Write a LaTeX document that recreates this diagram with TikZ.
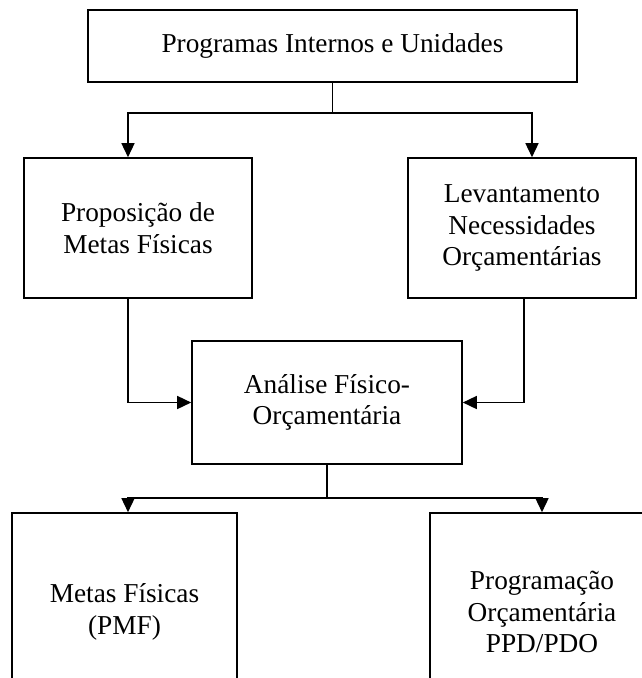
\documentclass[tikz,border=0pt]{standalone}
\usepackage{fontspec}
\setmainfont{Liberation Serif}
\usetikzlibrary{arrows.meta}
\begin{document}
\begin{tikzpicture}[x=1pt,y=-1pt,
  box/.style={draw,line width=1.6pt,align=center,inner sep=0pt,
    font=\fontsize{27.3}{31.5}\selectfont},
  arr/.style={line width=1.5pt,-{Triangle[length=14pt,width=13pt]}},
  ln/.style={line width=1.5pt}]
\useasboundingbox (0,0) rectangle (642,678);
\clip (0,0) rectangle (642,678);
\node[box,minimum width=489pt,minimum height=72pt] (top) at (332.5,46) {Programas Internos e Unidades};
\node[box,minimum width=228pt,minimum height=140pt] (lb) at (138,228) {Proposição de\\Metas Físicas};
\node[box,minimum width=228pt,minimum height=140pt] (rb) at (522,228) {Levantamento\\Necessidades\\Orçamentárias};
\node[box,minimum width=270pt,minimum height=123pt] (cb) at (327,402.5) {Análise Físico-\\Orçamentária};
\node[box,minimum width=225pt,minimum height=198pt] (bl) at (124.5,612) {Metas Físicas\\(PMF)};
\node[box,minimum width=224pt,minimum height=198pt] (br) at (542,612) {Programação\\Orçamentária\\PPD/PDO};
\draw[ln] (top.south) -- ++(0,30) coordinate (j1);
\draw[arr] (j1) -| (128,0 |- lb.north);
\draw[arr] (j1) -| (532,0 |- rb.north);
\draw[arr] (128,0 |- lb.south) |- (cb.west);
\draw[arr] (524,0 |- rb.south) |- (cb.east);
\draw[ln] (cb.south) -- ++(0,33) coordinate (j2);
\draw[arr] (j2) -| (128,0 |- bl.north);
\draw[arr] (j2) -| (542,0 |- br.north);
\end{tikzpicture}
\end{document}
